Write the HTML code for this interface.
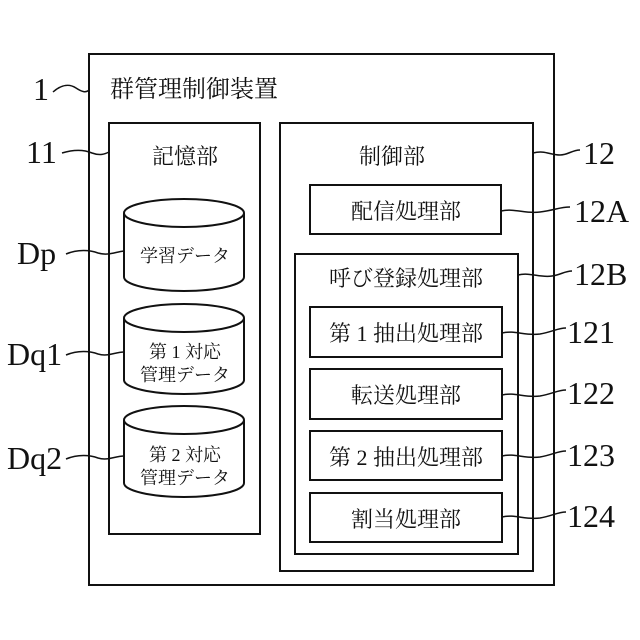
<!DOCTYPE html>
<html><head><meta charset="utf-8"><style>
html,body{margin:0;padding:0;background:#fff;}
svg{display:block}
.j{font-family:"Liberation Serif","Noto Serif CJK SC",serif;fill:#111;}
.n{font-family:"Liberation Serif",serif;fill:#111;font-size:32px;}
</style></head><body>
<svg width="640" height="640" viewBox="0 0 640 640" xmlns="http://www.w3.org/2000/svg">
<g fill="none" stroke="#111" stroke-width="2">
<rect x="89" y="54" width="465" height="531"/>
<rect x="109" y="123" width="151" height="411"/>
<rect x="280" y="123" width="253" height="448"/>
<rect x="295" y="254" width="223" height="300"/>
<rect x="310" y="185" width="191" height="49"/>
<rect x="310" y="307" width="192" height="50"/>
<rect x="310" y="369" width="192" height="50"/>
<rect x="310" y="431" width="192" height="49"/>
<rect x="310" y="493" width="192" height="49"/>
<path d="M124,213 L124,277 A60,14 0 0 0 244,277 L244,213"/><ellipse cx="184" cy="213" rx="60" ry="14"/>
<path d="M124,318 L124,380 A60,14 0 0 0 244,380 L244,318"/><ellipse cx="184" cy="318" rx="60" ry="14"/>
<path d="M124,420 L124,483 A60,14 0 0 0 244,483 L244,420"/><ellipse cx="184" cy="420" rx="60" ry="14"/>
</g>
<g fill="none" stroke="#111" stroke-width="1.5">
<path d="M53,92 C62,84 70,84 76,88 C82,92 86,93 89,90"/>
<path d="M62,153 C75,149 85,150 92,153 C100,156 105,154 109,152"/>
<path d="M66,254 C78,249 90,250 98,253 C108,256 115,252 124,251"/>
<path d="M66,355 C78,350 90,351 98,354 C108,357 115,352 124,352"/>
<path d="M66,459 C78,454 90,455 98,458 C108,461 115,456 124,456"/>
<path d="M533,153 C545,150 550,155 560,155 C568,155 572,150 580,150"/>
<path d="M501,211 C515,208 525,214 540,212 C555,210 560,207 570,207"/>
<path d="M518,275 C530,272 540,278 552,276 C560,275 565,271 572,271"/>
<path d="M502,333 C515,330 525,336 540,334 C552,332 558,328 566,328"/>
<path d="M502,395 C515,392 525,398 540,396 C552,394 558,390 566,390"/>
<path d="M502,456 C515,453 525,459 540,457 C552,455 558,451 566,451"/>
<path d="M502,517 C515,514 525,520 540,518 C552,516 558,512 566,512"/>
</g>
<text class="n" x="33" y="100">1</text>
<text class="n" x="26" y="163">11</text>
<text class="n" x="17" y="264">Dp</text>
<text class="n" x="7" y="365">Dq1</text>
<text class="n" x="7" y="469">Dq2</text>
<text class="n" x="583" y="164">12</text>
<text class="n" x="574" y="222">12A</text>
<text class="n" x="574" y="285">12B</text>
<text class="n" x="567" y="343">121</text>
<text class="n" x="567" y="404">122</text>
<text class="n" x="567" y="466">123</text>
<text class="n" x="567" y="527">124</text>
<text class="j" x="110" y="97" font-size="24">群管理制御装置</text>
<text class="j" x="185" y="164" font-size="22" text-anchor="middle">記憶部</text>
<text class="j" x="392" y="164" font-size="22" text-anchor="middle">制御部</text>
<text class="j" x="406" y="219" font-size="22" text-anchor="middle">配信処理部</text>
<text class="j" x="406" y="286" font-size="22" text-anchor="middle">呼び登録処理部</text>
<text class="j" x="406" y="341" font-size="22" text-anchor="middle">第 1 抽出処理部</text>
<text class="j" x="406" y="403" font-size="22" text-anchor="middle">転送処理部</text>
<text class="j" x="406" y="465" font-size="22" text-anchor="middle">第 2 抽出処理部</text>
<text class="j" x="406" y="527" font-size="22" text-anchor="middle">割当処理部</text>
<text class="j" x="185" y="262" font-size="18" text-anchor="middle">学習データ</text>
<text class="j" x="185" y="358" font-size="18" text-anchor="middle">第 1 対応</text>
<text class="j" x="185" y="381" font-size="18" text-anchor="middle">管理データ</text>
<text class="j" x="185" y="461" font-size="18" text-anchor="middle">第 2 対応</text>
<text class="j" x="185" y="484" font-size="18" text-anchor="middle">管理データ</text>
</svg>
</body></html>
